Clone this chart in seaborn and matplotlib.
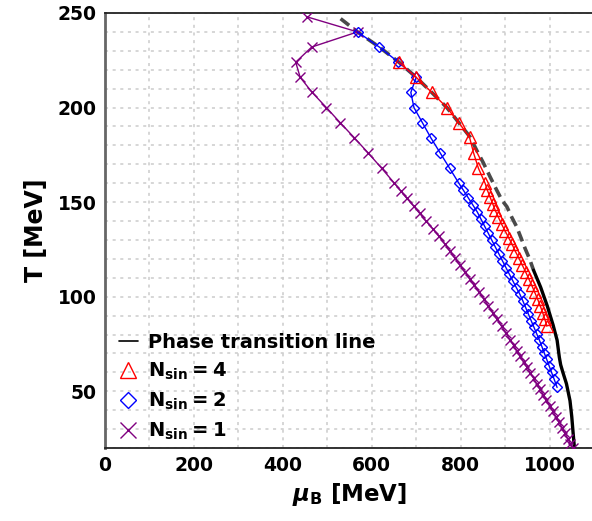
import numpy as np
import pandas as pd
import matplotlib
matplotlib.use("Agg")
import matplotlib.pyplot as plt
from matplotlib.lines import Line2D
from matplotlib.ticker import MultipleLocator
import seaborn as sns

# ---- data ----
# phase transition line: crossover part (dashed) and first-order part (solid)
pt_dash_mu = [530, 568, 617, 661, 700, 735, 769, 796, 821, 837, 851, 866, 881,
              893, 904, 915, 926, 936, 945, 955, 964]
pt_dash_T = [247, 240, 232, 224, 216, 208, 200, 192, 184.5, 177, 170.8, 163.5,
             156.4, 151, 147.6, 142, 137, 131, 125.5, 120, 114]
pt_solid_mu = [964, 980, 995, 1008, 1017, 1022, 1025, 1030, 1038, 1046, 1050, 1053, 1056]
pt_solid_T = [114, 105, 95, 85, 77, 68, 64, 60, 54, 45, 36.5, 28, 20]

# N_sin = 4
n4_mu = [661, 700, 735, 769, 796, 820, 829, 840, 855, 860, 866, 872, 878, 885,
         892, 900, 908, 916, 923, 931, 938.5, 946, 953, 960, 966.5, 973, 979,
         984.5, 989.5, 994]
n4_T = [224, 216, 208, 200, 192, 184.3, 176.1, 167.9, 160, 156.4, 152.8, 149.2,
        145.6, 142, 138.4, 134.8, 131.2, 127.6, 124, 120.4, 116.8, 113.2, 109.6,
        106, 102.4, 98.8, 95.2, 91.6, 88, 84.4]

# N_sin = 2
n2_mu = [568, 617, 660, 700, 688, 695, 714, 733, 754, 775, 796, 806.4, 816.8,
         827.2, 837.4, 845.8, 853.9, 862, 870.1, 878.2, 886.1, 894, 901.9, 909.8,
         917.8, 925.5, 933.4, 940.1, 946.4, 952.6, 958.9, 965, 971.1, 977.2,
         982.8, 988.2, 993.7, 999.1, 1004.5, 1010, 1017]
n2_T = [240, 232, 224, 216, 208, 200, 192, 184, 176, 168, 160, 156.2, 152.4,
        148.6, 144.8, 141.0, 137.3, 133.6, 129.9, 126.2, 122.6, 119.0, 115.4,
        111.8, 108.2, 104.7, 101.2, 97.7, 94.2, 90.7, 87.2, 83.8, 80.4, 77.0,
        73.6, 70.2, 66.8, 63.4, 60.0, 56.6, 52.0]

# N_sin = 1
n1_mu = [454, 568, 465, 429, 439, 466, 498, 529, 561, 592, 622, 651, 665, 679,
         694, 708, 722, 737, 751, 764, 776, 787, 798, 809, 820, 831, 842, 852,
         862, 872, 882, 892, 902, 911, 919, 926.5, 934, 941.5, 949, 956.5, 964,
         971, 978.5, 986, 993, 1000, 1007, 1014, 1021, 1028, 1034, 1041, 1047, 1053]
n1_T = [248, 240, 232, 224, 216, 208, 200, 192, 184, 176, 168, 160, 156, 152,
        148, 144, 140, 136, 132, 128, 124, 120.4, 116.8, 113.2, 109.6, 106,
        102.4, 98.8, 95.2, 91.6, 88, 84.4, 80.8, 77.2, 74.3, 71.4, 68.5, 65.6,
        62.7, 59.8, 56.9, 54, 51.1, 48.2, 45.3, 42.4, 39.5, 36.6, 33.7, 30.8,
        27.9, 25, 22.1, 20]

xticks = [0, 200, 400, 600, 800, 1000]
yticks = [50, 100, 150, 200, 250]

# ---- plot ----
sns.set_theme(style="white")
plt.rcParams["font.family"] = ["DejaVu Sans"]
plt.rcParams["font.weight"] = "bold"
plt.rcParams["mathtext.fontset"] = "dejavusans"
for k in ["text.color", "axes.labelcolor", "xtick.color", "ytick.color"]:
    plt.rcParams[k] = "black"

fig = plt.figure(figsize=(5.92, 5.21), dpi=100)
ax = fig.add_axes([105 / 592, 73 / 521, 489 / 592, 435 / 521])

def df(mu, T):
    return pd.DataFrame({"mu": mu, "T": T})

PURPLE = "#800080"

sns.lineplot(data=df(pt_dash_mu, pt_dash_T), x="mu", y="T", sort=False, estimator=None,
             ax=ax, color="#4a4a4a", lw=2.6, linestyle=(0, (3, 1.6)), zorder=2)
sns.lineplot(data=df(pt_solid_mu, pt_solid_T), x="mu", y="T", sort=False, estimator=None,
             ax=ax, color="black", lw=2.4, zorder=2)
sns.lineplot(data=df(n1_mu, n1_T), x="mu", y="T", sort=False, estimator=None, ax=ax,
             color=PURPLE, lw=1.0, marker="x", markersize=7, markeredgewidth=1.0,
             markeredgecolor=PURPLE, zorder=3)
sns.lineplot(data=df(n2_mu, n2_T), x="mu", y="T", sort=False, estimator=None, ax=ax,
             color="blue", lw=1.0, marker="D", markersize=5, markerfacecolor="none",
             markeredgecolor="blue", markeredgewidth=1.0, zorder=4)
sns.lineplot(data=df(n4_mu, n4_T), x="mu", y="T", sort=False, estimator=None, ax=ax,
             color="red", lw=1.0, marker="^", markersize=9, markerfacecolor="none",
             markeredgecolor="red", markeredgewidth=1.0, zorder=5)

ax.set_xlim(0, 1100)
ax.set_ylim(20, 250)
ax.set_xticks(xticks)
ax.set_yticks(yticks)
ax.xaxis.set_minor_locator(MultipleLocator(100))
ax.yaxis.set_minor_locator(MultipleLocator(10))
ax.grid(True, which="both", color="#cccccc", linestyle=(0, (2, 3)), linewidth=1.1)
ax.set_axisbelow(True)
ax.tick_params(which="both", length=0, labelsize=13.5, pad=6, colors="black")
for lab in ax.get_xticklabels() + ax.get_yticklabels():
    lab.set_fontweight("bold")

ax.set_xlabel(r"$\mu_{\mathbf{B}}$ [MeV]", fontsize=16.5, fontweight="bold", labelpad=4)
ax.set_ylabel("T [MeV]", fontsize=17, fontweight="bold", labelpad=7)

for s in ["top", "bottom", "left", "right"]:
    ax.spines[s].set_color("#222222")
    ax.spines[s].set_linewidth(1.3)
ax.spines["left"].set_color("#666666")
ax.spines["left"].set_linewidth(2.0)

handles = [
    Line2D([0], [0], color="black", lw=1.2),
    Line2D([0], [0], color="red", lw=0, marker="^", markersize=11, markerfacecolor="none",
           markeredgecolor="red", markeredgewidth=1.0),
    Line2D([0], [0], color="blue", lw=0, marker="D", markersize=8, markerfacecolor="none",
           markeredgecolor="blue", markeredgewidth=1.0),
    Line2D([0], [0], color=PURPLE, lw=0, marker="x", markersize=11, markeredgewidth=1.0),
]
labels = ["Phase transition line", r"$\mathbf{N_{sin} = 4}$",
          r"$\mathbf{N_{sin} = 2}$", r"$\mathbf{N_{sin} = 1}$"]
leg = ax.legend(handles, labels, loc="lower left", bbox_to_anchor=(0.02, 0.005),
                frameon=False, fontsize=14, handlelength=1.0, handletextpad=0.5,
                labelspacing=0.45, borderaxespad=0, borderpad=0.2)
for t in leg.get_texts():
    t.set_fontweight("bold")
    t.set_color("black")

fig.savefig("out.png", dpi=100)
